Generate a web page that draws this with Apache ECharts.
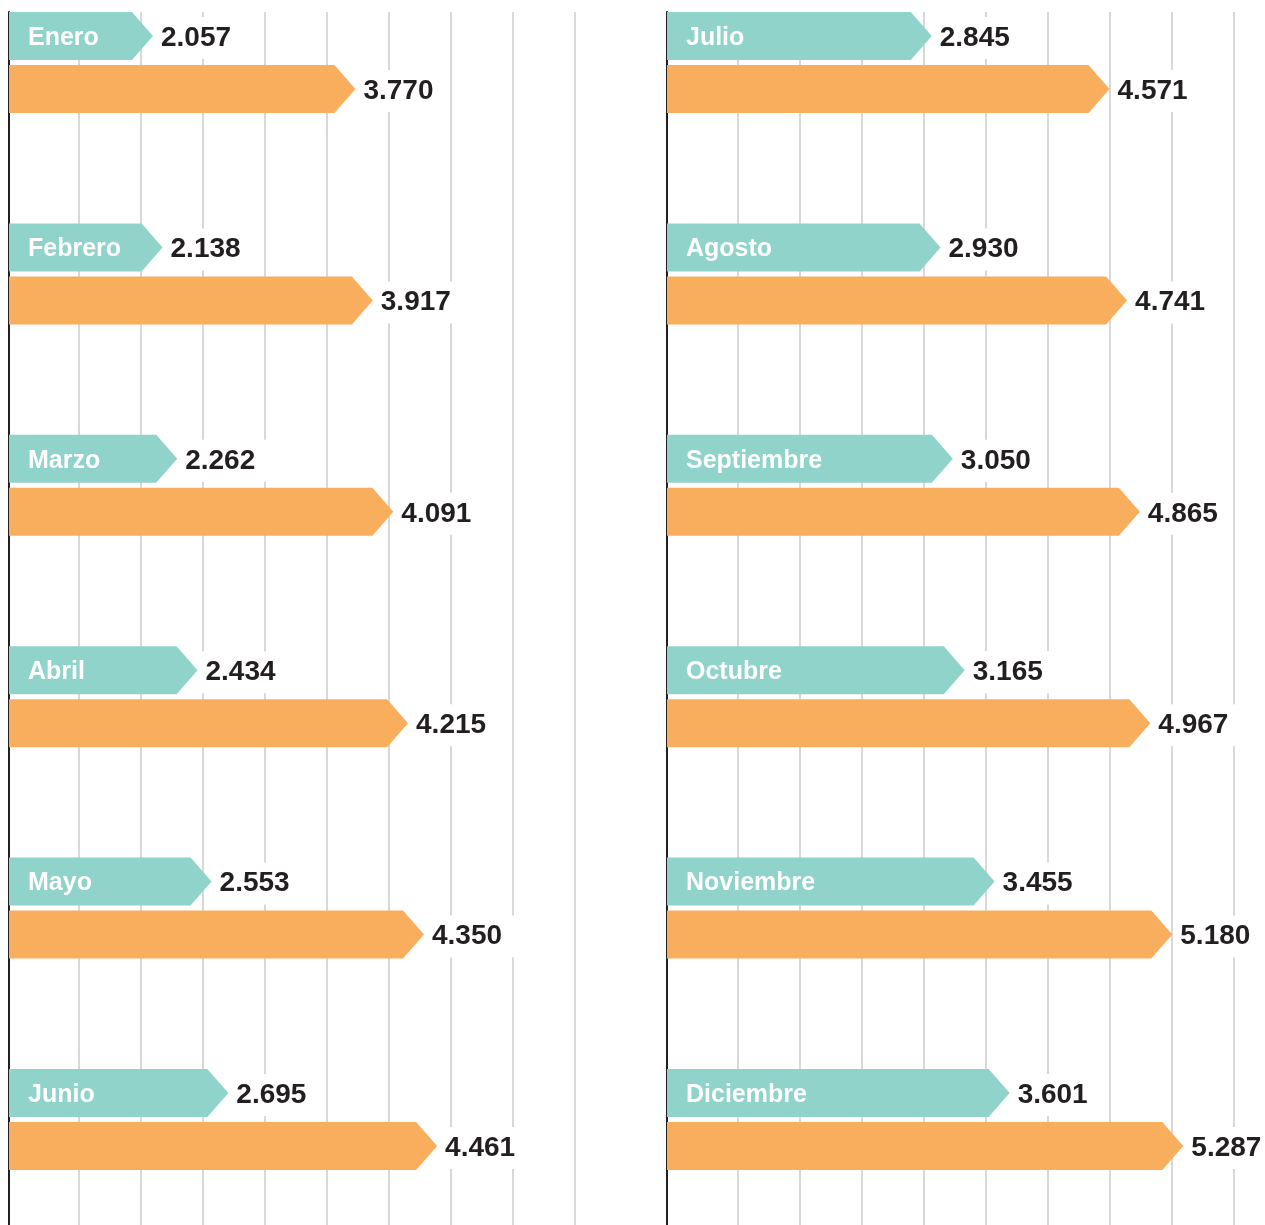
<!DOCTYPE html>
<html>
<head>
<meta charset="utf-8">
<title>Meses</title>
<script src="https://cdn.jsdelivr.net/npm/echarts@6/dist/echarts.min.js"></script>
<style>
    html, body { margin: 0; padding: 0; background: #fff; }
    #chart { width: 1265px; height: 1225px; }
</style>
</head>
<body>
<div id="chart"></div>
<script>
// datos
var mesesIzq = ['Enero', 'Febrero', 'Marzo', 'Abril', 'Mayo', 'Junio'];
var mesesDer = ['Julio', 'Agosto', 'Septiembre', 'Octubre', 'Noviembre', 'Diciembre'];
var verdeIzq = [2057, 2138, 2262, 2434, 2553, 2695];
var naranjaIzq = [3770, 3917, 4091, 4215, 4350, 4461];
var verdeDer = [2845, 2930, 3050, 3165, 3455, 3601];
var naranjaDer = [4571, 4741, 4865, 4967, 5180, 5287];

var VERDE = '#8fd3ca';
var NARANJA = '#f9ae5e';
var ALTO = 48;
var HUECO = 5;
var PICO = 21;

function formato(v) {
    return String(Math.round(v)).replace(/\B(?=(\d{3})+(?!\d))/g, '.');
}

function pares(valores) {
    return valores.map(function (v, i) { return [v, i]; });
}

// flecha: fila 0 = verde (con el mes), fila 1 = naranja
function flecha(fila, color, meses) {
    return function (params, api) {
        var cs = params.coordSys;
        var i = api.value(1);
        var punta = api.coord([api.value(0), i]);
        var banda = api.size([0, 1])[1];
        var top = punta[1] - banda / 2 + fila * (ALTO + HUECO);
        var x0 = cs.x;
        var xt = punta[0];
        var hijos = [{
            type: 'polygon',
            shape: {
                points: [[x0, top], [xt - PICO, top], [xt, top + ALTO / 2],
                         [xt - PICO, top + ALTO], [x0, top + ALTO]]
            },
            style: { fill: color }
        }, {
            type: 'text',
            z2: 5,
            style: {
                text: formato(api.value(0)),
                x: xt + 2,
                y: top + ALTO / 2 + 2,
                align: 'left',
                verticalAlign: 'middle',
                fill: '#231f20',
                font: 'bold 28px "Liberation Sans", Arial, sans-serif',
                backgroundColor: '#fff',
                padding: [7, 12, 7, 6]
            }
        }];
        if (fila === 0) {
            hijos.push({
                type: 'text',
                z2: 5,
                style: {
                    text: meses[i],
                    x: x0 + 19,
                    y: top + ALTO / 2 + 2,
                    align: 'left',
                    verticalAlign: 'middle',
                    fill: '#fff',
                    font: 'bold 25px "Liberation Sans", Arial, sans-serif'
                }
            });
        }
        return { type: 'group', children: hijos };
    };
}

var ejeMes = {
    type: 'value', inverse: true, min: -0.5, max: 5.238,
    axisLine: { show: true, onZero: false, lineStyle: { color: '#231f20', width: 2 } },
    axisTick: { show: false }, axisLabel: { show: false }, splitLine: { show: false }
};

var chart = echarts.init(document.getElementById('chart'));

var option = {
    animation: false,
    grid: [
        // lineas de fondo
        { left: 79, width: 496, top: 12, bottom: 0 },
        { left: 738, width: 496, top: 12, bottom: 0 },
        // barras
        { left: 9, width: 610, top: 12, bottom: 0 },
        { left: 667, width: 598, top: 12, bottom: 0 }
    ],
    xAxis: [
        { gridIndex: 0, type: 'value', min: 0, max: 8, interval: 1,
          axisLine: { show: false }, axisTick: { show: false }, axisLabel: { show: false },
          splitLine: { show: true, lineStyle: { color: '#d8d8d8', width: 2 } } },
        { gridIndex: 1, type: 'value', min: 0, max: 8, interval: 1,
          axisLine: { show: false }, axisTick: { show: false }, axisLabel: { show: false },
          splitLine: { show: true, lineStyle: { color: '#d8d8d8', width: 2 } } },
        { gridIndex: 2, type: 'value', min: 839, max: 6000,
          axisLine: { show: false }, axisTick: { show: false }, axisLabel: { show: false },
          splitLine: { show: false } },
        { gridIndex: 3, type: 'value', min: 275, max: 6080,
          axisLine: { show: false }, axisTick: { show: false }, axisLabel: { show: false },
          splitLine: { show: false } }
    ],
    yAxis: [
        { gridIndex: 0, type: 'value', show: false },
        { gridIndex: 1, type: 'value', show: false },
        Object.assign({ gridIndex: 2 }, ejeMes),
        Object.assign({ gridIndex: 3 }, ejeMes)
    ],
    series: [
        { type: 'custom', name: 'verde', xAxisIndex: 2, yAxisIndex: 2, clip: false,
          renderItem: flecha(0, VERDE, mesesIzq), encode: { x: 0, y: 1 }, data: pares(verdeIzq) },
        { type: 'custom', name: 'naranja', xAxisIndex: 2, yAxisIndex: 2, clip: false,
          renderItem: flecha(1, NARANJA, mesesIzq), encode: { x: 0, y: 1 }, data: pares(naranjaIzq) },
        { type: 'custom', name: 'verde', xAxisIndex: 3, yAxisIndex: 3, clip: false,
          renderItem: flecha(0, VERDE, mesesDer), encode: { x: 0, y: 1 }, data: pares(verdeDer) },
        { type: 'custom', name: 'naranja', xAxisIndex: 3, yAxisIndex: 3, clip: false,
          renderItem: flecha(1, NARANJA, mesesDer), encode: { x: 0, y: 1 }, data: pares(naranjaDer) }
    ]
};

chart.setOption(option);
</script>
</body>
</html>
